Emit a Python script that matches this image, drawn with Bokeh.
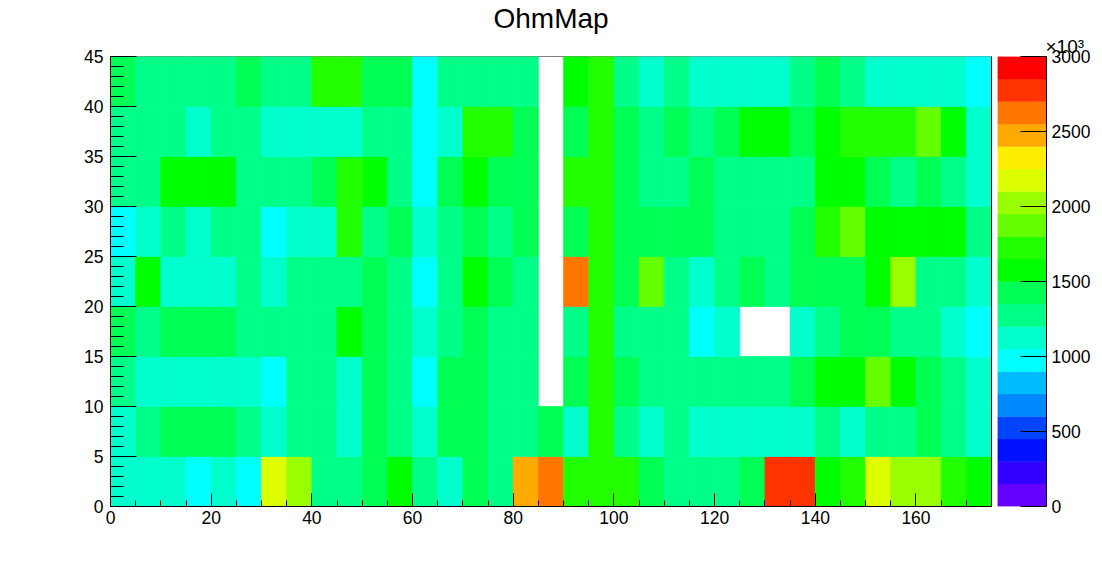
from bokeh.plotting import figure
from bokeh.embed import file_html
from bokeh.resources import INLINE
from bokeh.layouts import row
from bokeh.models import (ColumnDataSource, LinearColorMapper, FixedTicker, LinearAxis, Range1d, Title)
from bokeh.transform import transform

title_text = "OhmMap"
exponent_text = "×10³"
x_edges = list(range(0, 180, 5))
y_edges = list(range(0, 50, 5))
palette = ["#6600ff", "#3300ff", "#0011ff", "#0044ff", "#0088ff", "#00bbff", "#00ffff",
           "#00ffcc", "#00ff88", "#00ff55", "#00ff00", "#22ff00", "#66ff00", "#99ff00",
           "#ddff00", "#ffee00", "#ffaa00", "#ff7700", "#ff3300", "#ff0000"]
z_low, z_high = 0, 3000
x_major = [0, 20, 40, 60, 80, 100, 120, 140, 160]
x_minor = list(range(0, 180, 5))
y_major = [0, 5, 10, 15, 20, 25, 30, 35, 40, 45]
y_minor = list(range(0, 46))
z_major = [0, 500, 1000, 1500, 2000, 2500, 3000]

# bin values, column by column from x=0, bottom row first; None = empty bin
C, T, M, G, L, H, Y, A, E, O, R, S = 975, 1125, 1275, 1425, 1575, 1725, 1875, 2025, 2175, 2475, 2625, 2775
N = None
row_0 = [T,T,T,C,T,C,E,A,M,M,G,L,M,T,G,M,O,R,H,H,H,G,M,M,M,G,S,S,L,H,E,A,A,H,L]
row_1 = [T,M,G,G,G,M,T,M,M,T,G,M,T,G,G,M,M,G,T,H,M,T,M,T,T,T,T,T,M,T,M,M,G,M,T]
row_2 = [M,T,T,T,T,T,C,M,M,T,G,M,C,G,G,M,M,N,G,H,G,M,M,M,M,M,M,G,L,L,Y,L,G,M,T]
row_3 = [G,M,G,G,G,M,M,M,M,L,G,M,T,M,G,M,M,N,M,H,M,M,M,C,T,N,N,T,M,G,G,M,M,T,C]
row_4 = [T,L,T,T,T,M,T,M,M,M,G,M,C,M,L,G,M,N,R,H,G,Y,M,T,M,G,M,G,G,G,L,A,M,M,T]
row_5 = [C,T,M,T,M,M,C,T,T,H,M,G,T,M,G,M,G,N,G,H,G,G,G,G,M,M,M,G,H,Y,L,L,L,L,M]
row_6 = [M,M,L,L,L,M,M,M,G,H,L,M,C,G,L,G,G,N,H,H,G,M,M,G,M,M,M,M,L,L,G,M,G,M,T]
row_7 = [M,M,M,T,M,M,T,T,T,T,M,M,C,T,H,H,G,N,G,H,G,M,G,M,G,L,L,G,L,H,H,H,Y,L,T]
row_8 = [G,M,M,M,M,G,M,M,H,H,G,G,C,M,M,M,M,N,L,H,M,T,M,T,T,T,T,M,G,M,T,T,T,T,C]
rows = [row_0, row_1, row_2, row_3, row_4, row_5, row_6, row_7, row_8]

left, right, bottom, top, z = [], [], [], [], []
for j, values in enumerate(rows):
    for i, v in enumerate(values):
        if v is None:
            continue
        left.append(x_edges[i]); right.append(x_edges[i + 1])
        bottom.append(y_edges[j]); top.append(y_edges[j + 1]); z.append(v)
source = ColumnDataSource(dict(left=left, right=right, bottom=bottom, top=top, z=z))
mapper = LinearColorMapper(palette=palette, low=z_low, high=z_high)

FONT = "Liberation Sans"
TICK_SIZE = "17.5px"

p = figure(width=997, height=554, output_backend="svg", toolbar_location=None,
           x_range=Range1d(x_edges[0], x_edges[-1]), y_range=Range1d(y_edges[0], y_edges[-1]),
           frame_width=881, frame_height=450, min_border_left=110, min_border_right=6,
           min_border_top=56, min_border_bottom=48, outline_line_color=None)
p.grid.visible = False
p.quad(left="left", right="right", bottom="bottom", top="top", source=source,
       fill_color=transform("z", mapper), line_color=transform("z", mapper), line_width=0.7)

p.xaxis.ticker = FixedTicker(ticks=x_major, minor_ticks=x_minor)
p.yaxis.ticker = FixedTicker(ticks=y_major, minor_ticks=y_minor)
for ax, maj, mnr, gap in ((p.xaxis[0], 13, 6, 4), (p.yaxis[0], 26, 13, 7)):
    ax.major_tick_in = maj; ax.major_tick_out = 0
    ax.minor_tick_in = mnr; ax.minor_tick_out = 0
    ax.major_label_text_font = FONT
    ax.major_label_text_font_size = TICK_SIZE
    ax.major_label_text_color = "black"
    ax.axis_line_color = "black"; ax.major_tick_line_color = "black"; ax.minor_tick_line_color = "black"
    ax.major_label_standoff = gap

# top and right frame lines: the top one lies beneath the bins
for side in ("above", "right"):
    ax = LinearAxis(ticker=FixedTicker(ticks=[]), major_label_text_font_size="0px", major_label_standoff=0,
                    major_tick_line_color=None, minor_tick_line_color=None, axis_line_color="black")
    if side == "above":
        ax.level = "underlay"
    p.add_layout(ax, side)

# a blank title keeps the real one clear of the frame
p.add_layout(Title(text=" ", text_font_size="1px", standoff=20), "above")
p.add_layout(Title(text=title_text, align="left", offset=383, standoff=0, text_font=FONT,
                   text_font_size="28px", text_font_style="normal", text_color="black"), "above")

# palette axis
q = figure(width=97, height=554, output_backend="svg", toolbar_location=None,
           x_range=Range1d(0, 1), y_range=Range1d(z_low, z_high),
           frame_width=49, frame_height=450, min_border_left=0, min_border_right=48,
           min_border_top=56, min_border_bottom=48, outline_line_color=None, y_axis_location="right")
q.grid.visible = False
q.xaxis.visible = False
step = (z_high - z_low) / len(palette)
q.quad(left=0, right=1, bottom=[z_low + i * step for i in range(len(palette))],
       top=[z_low + (i + 1) * step for i in range(len(palette))], fill_color=palette, line_color=palette, line_width=0.4)
ya = q.yaxis[0]
ya.ticker = FixedTicker(ticks=z_major)
ya.major_tick_in = 26; ya.major_tick_out = 0
ya.minor_tick_line_color = None
ya.major_label_text_font = FONT; ya.major_label_text_font_size = TICK_SIZE
ya.major_label_text_color = "black"; ya.major_label_standoff = 5
ya.axis_line_color = "black"; ya.major_tick_line_color = "black"
q.add_layout(Title(text=exponent_text, align="left", offset=48, standoff=0, text_line_height=0.8, text_font=FONT,
                   text_font_size="19px", text_font_style="normal", text_color="black"), "above")

layout = row(p, q, spacing=0)
open("out.html", "w").write(file_html(layout, INLINE))
